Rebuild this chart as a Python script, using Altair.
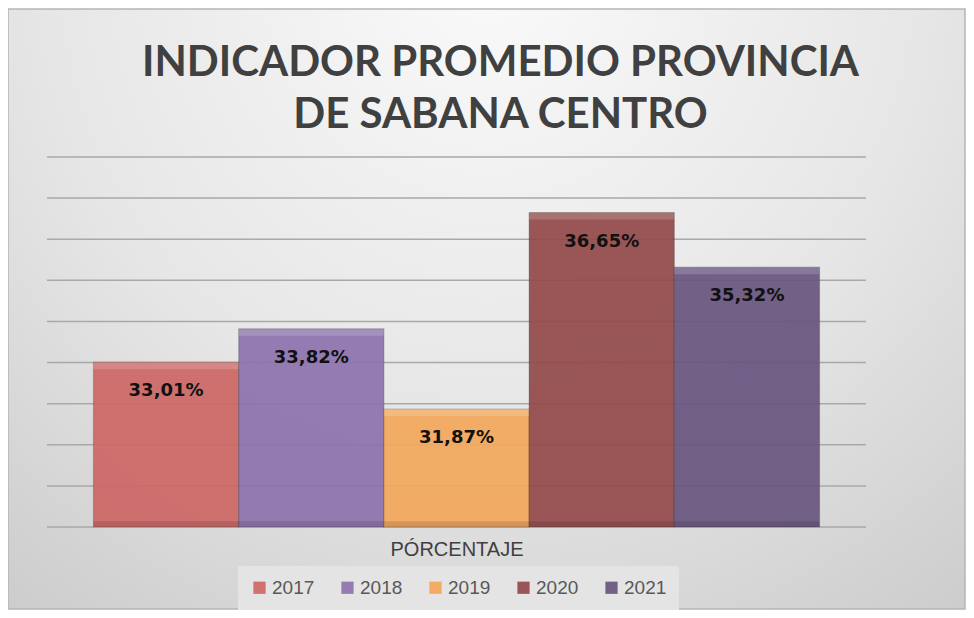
import altair as alt
import pandas as pd

years = ["2017", "2018", "2019", "2020", "2021"]
values = [33.01, 33.82, 31.87, 36.65, 35.32]
colors = ["#cd6866", "#8e74ae", "#f3a85c", "#944b4b", "#6a5680"]
category = "PÓRCENTAJE"
title_lines = ["INDICADOR PROMEDIO PROVINCIA", "DE SABANA CENTRO"]
y_min, y_max = 29, 38
grid_values = list(range(29, 39))

df = pd.DataFrame({"year": years, "value": values})
df["label"] = [f"{v:.2f}".replace(".", ",") + "%" for v in values]
df["base"] = y_min
grid_df = pd.DataFrame({"g": grid_values})

W, H = 819, 370

x_enc = alt.X(
    "year:N",
    sort=years,
    scale=alt.Scale(paddingInner=0, paddingOuter=0.32),
    axis=alt.Axis(
        title=category, labels=False, ticks=False, domain=False, grid=False,
        titleFont="Liberation Sans", titleFontSize=20, titleFontWeight="normal",
        titleColor="#404040", titlePadding=12, zindex=1,
    ),
)
y_scale = alt.Scale(domain=[y_min, y_max], nice=False, zero=False)
y_enc = alt.Y("value:Q", scale=y_scale, axis=None)
color_enc = alt.Color(
    "year:N",
    scale=alt.Scale(domain=years, range=colors),
    legend=alt.Legend(
        title=None, orient="none", legendX=191, legendY=409, direction="horizontal",
        symbolType="square", symbolSize=150, symbolStrokeWidth=0,
        labelFont="Liberation Sans", labelFontSize=19, labelColor="#595959",
        columnPadding=23, padding=12, fillColor="#e4e4e4", labelOffset=3,
    ),
)

bg = alt.Chart(pd.DataFrame({"k": [0]})).mark_rect(
    fill=alt.Gradient(
        gradient="radial",
        stops=[alt.GradientStop(color="#fafafa", offset=0),
               alt.GradientStop(color="#e6e6e6", offset=0.55),
               alt.GradientStop(color="#cbcbcb", offset=1)],
        x1=0.5, y1=0.15, r1=0, x2=0.5, y2=0.15, r2=0.85,
    ),
    stroke="#b5b5b5", strokeWidth=1.5,
).encode(
    x=alt.value(-39), x2=alt.value(W + 99),
    y=alt.value(-148), y2=alt.value(H + 82),
)

grid = alt.Chart(grid_df).mark_rule(color="#a9a9a9", strokeWidth=1.5).encode(
    y=alt.Y("g:Q", scale=y_scale, axis=None),
    x=alt.value(0), x2=alt.value(W),
)

base = alt.Chart(df)
bars = base.mark_bar(strokeWidth=1.2, stroke="#00000033", opacity=0.93).encode(
    x=x_enc, y=y_enc, y2=alt.Y2("base:Q"), color=color_enc,
)
highlight = base.transform_calculate(top2="datum.value - 0.17").mark_bar(
    color="#ffffff", opacity=0.16,
).encode(
    x=alt.X("year:N", sort=years), y=alt.Y("value:Q", scale=y_scale), y2="top2:Q",
)
shade = base.transform_calculate(bot2="datum.base + 0.14").mark_bar(
    color="#000000", opacity=0.12,
).encode(
    x=alt.X("year:N", sort=years), y=alt.Y("base:Q", scale=y_scale), y2="bot2:Q",
)
labels = base.mark_text(
    font="DejaVu Sans", fontWeight="bold", fontSize=18, color="#111111", dy=29,
).encode(
    x=alt.X("year:N", sort=years), y=alt.Y("value:Q", scale=y_scale), text="label:N",
)

chart = alt.layer(bg, grid, bars, highlight, shade, labels).properties(
    width=W, height=H,
    title=alt.TitleParams(
        title_lines, font="Lato", fontSize=42, fontWeight="bold",
        color="#404040", anchor="middle", frame="group", dx=44, offset=-129,
        lineHeight=52,
    ),
    autosize=alt.AutoSizeParams(type="none"),
    padding={"left": 39, "top": 149, "right": 100, "bottom": 83},
).configure_view(stroke=None).configure(background="#ffffff")

chart.save("out.html", embed_options={"renderer": "svg", "actions": False})
